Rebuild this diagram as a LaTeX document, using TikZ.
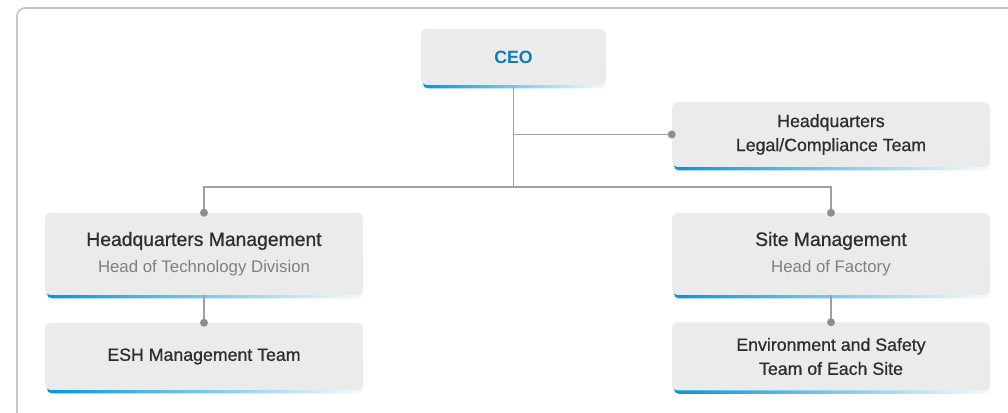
\documentclass[tikz,border=0pt]{standalone}
\usepackage{fontspec}
\setmainfont{Liberation Sans}
\newfontfamily\medfont[FakeBold=0.8]{Liberation Sans}
\usetikzlibrary{backgrounds}

\definecolor{boxgray}{HTML}{EBEBEB}
\definecolor{linegray}{HTML}{A0A0A0}
\definecolor{dotgray}{HTML}{8E8E8E}
\definecolor{framegray}{HTML}{C4C4C4}
\definecolor{ceoblue}{HTML}{0A7BC4}
\definecolor{barblue}{HTML}{0096DE}
\definecolor{textdark}{HTML}{2E2E2E}
\definecolor{subgray}{HTML}{808080}

% box sizes are given in pixels of 0.75pt
\tikzset{
  unit/.style={rectangle, rounded corners=4pt, fill=boxgray, inner sep=0pt, align=center,
    text=textdark, minimum width=238.5pt, font=\medfont\fontsize{13.3}{18}\selectfont},
  head/.style={unit, minimum height=61.5pt, font=\medfont\fontsize{14.5}{19}\selectfont},
  link/.style={draw=linegray, line width=1.1pt},
  joint/.style={fill=dotgray, draw=none},
}
\newcommand{\subline}[1]{{\normalfont\color{subgray}\fontsize{12.6}{19}\selectfont #1}}

\begin{document}
\begin{tikzpicture}[x=0.75pt, y=-0.75pt]
\useasboundingbox (0,0) rectangle (1008,413);
\draw[framegray, line width=1.2pt, rounded corners=6pt] (17,413) -- (17,8) -- (1008,8);

\node[unit, minimum width=138.75pt, minimum height=42pt, text=ceoblue,
  font=\bfseries\fontsize{13.3}{16}\selectfont] (ceo) at (513.5,57) {CEO};
\node[unit, minimum height=48.75pt] (legal) at (831,134.5) {Headquarters\\Legal/Compliance Team};
\node[head] (hqm) at (204,254) {Headquarters Management\\[1pt]\subline{Head of Technology Division}};
\node[unit, minimum height=50.25pt] (esh) at (204,356.5) {ESH Management Team};
\node[head] (site) at (831,254) {Site Management\\[1pt]\subline{Head of Factory}};
\node[unit, minimum height=51pt] (env) at (831,356.5) {Environment and Safety\\Team of Each Site};

% blue strip under every box
\begin{scope}[on background layer]
\foreach \n in {ceo,legal,hqm,esh,site,env}
  \shade[left color=barblue, right color=barblue!4, rounded corners=4pt]
    ([xshift=1.5pt, yshift=-2.4pt]\n.south west) rectangle (\n.east);
\end{scope}

\coordinate (bar) at (ceo.south |- 0,187);
\draw[link] (ceo.south) -- (bar);
\draw[link] (ceo.south |- legal.west) -- (legal.west);
\draw[link] (hqm.north) |- (bar) -| (site.north);
\draw[link] (hqm) -- (esh);
\draw[link] (site) -- (env);
\foreach \p in {legal.west,hqm.north,site.north,esh.north,env.north}
  \fill[joint] (\p) circle (4);
\end{tikzpicture}
\end{document}
